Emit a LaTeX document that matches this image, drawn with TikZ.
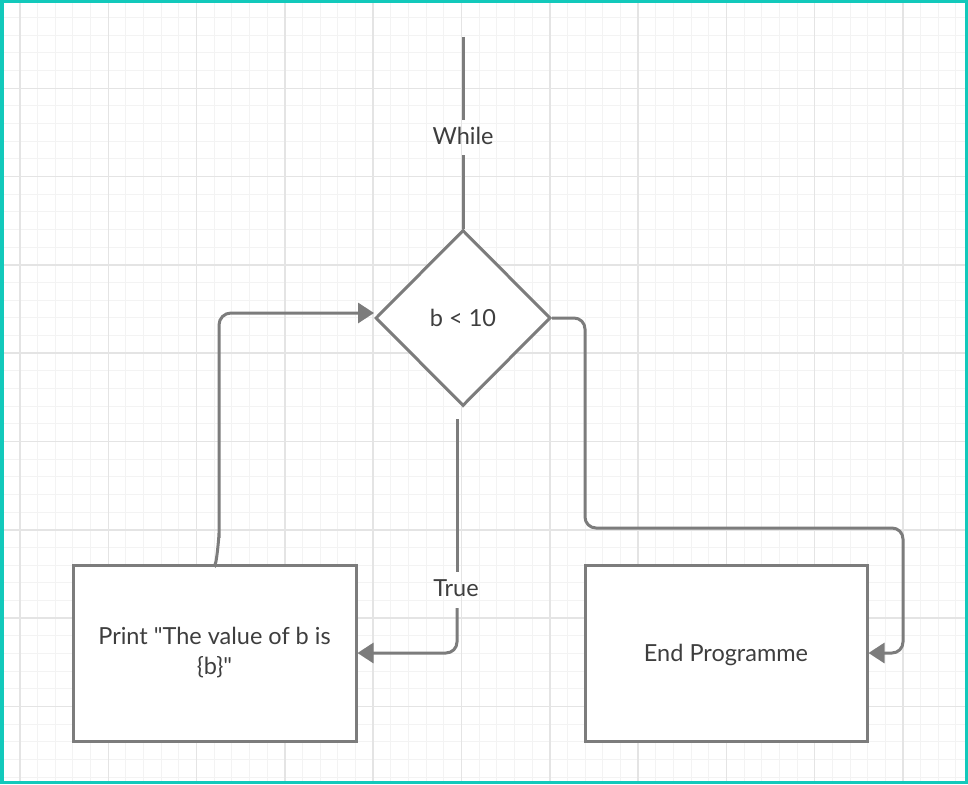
\documentclass[tikz,border=0pt]{standalone}
\usepackage{fontspec}
\setmainfont{Lato}[Ligatures=TeXOff]
\usetikzlibrary{shapes.geometric,arrows.meta,calc}
\definecolor{gridmin}{HTML}{F3F3F3}
\definecolor{gridmaj}{HTML}{E4E4E4}
\definecolor{frame}{HTML}{12C9BB}
\definecolor{linec}{HTML}{7C7C7C}
\definecolor{textc}{HTML}{3E3E3E}
\tikzset{
  minorline/.style={gridmin, line width=1pt},
  majorline/.style={gridmaj, line width=1.5pt},
  shapebox/.style={draw=linec, line width=3pt, fill=white, text=textc, font=\fontsize{23.5}{30}\selectfont, align=center, inner sep=0pt},
  conn/.style={draw=linec, line width=3pt},
  arrowconn/.style={conn, -{Triangle[length=16pt,width=20pt]}},
  lbl/.style={text=textc, font=\fontsize{23.5}{30}\selectfont, inner sep=0pt}
}
\begin{document}
\begin{tikzpicture}[x=1pt,y=-1pt]
\useasboundingbox (0,0) rectangle (968,784);
\fill[white] (0,0) rectangle (968,784);
% grid
\foreach \i in {-1,...,54} {
  \pgfmathsetmacro\xx{20+\i*17.66}
  \draw[minorline] (\xx,0) -- (\xx,784);
}
\foreach \i in {0,...,45} {
  \pgfmathsetmacro\yy{\i*17.66}
  \draw[minorline] (0,\yy) -- (968,\yy);
}
\foreach \i in {0,...,10} {
  \pgfmathsetmacro\xx{20+\i*88.3}
  \draw[majorline] (\xx,0) -- (\xx,784);
}
\foreach \i in {1,...,8} {
  \pgfmathsetmacro\yy{\i*88.3}
  \draw[majorline] (0,\yy) -- (968,\yy);
}
% frame
\draw[frame, line width=3.5pt] (1.75,1.75) rectangle (966.25,782.25);

% nodes
\node[shapebox, shape=diamond, minimum width=175pt, minimum height=176pt] (d) at (463,318) {b < 10};
\node[shapebox, shape=rectangle, minimum width=283pt, minimum height=176pt] (p) at (214.5,653) {Print "The value of b is\\\{b\}"};
\node[shapebox, shape=rectangle, minimum width=282pt, minimum height=176pt, text depth=0pt] (e) at (726,653) {End Programme};

% top connector with label
\coordinate (t0) at (463,37);
\coordinate (t1) at (463,120);
\coordinate (t2) at (463,155);
\node[lbl] (wl) at (463,136) {While};
\draw[conn] (t0) -- (t1);
\draw[conn] (t2) -- (d.north);

% true connector
\coordinate (f0) at (457,419);
\coordinate (f1) at (457,572);
\coordinate (f2) at (457,608);
\node[lbl] (tl) at (456,588) {True};
\draw[conn] (f0) -- (f1);
\draw[arrowconn, rounded corners=11pt] (f2) -- (457,653) -- (p.east);

% loop connector
\draw[arrowconn, rounded corners=12pt] (p.north) to[out=-80,in=90] (219,545) -- (219,313) -- ([yshift=5pt]d.west);

% false connector
\draw[arrowconn, rounded corners=11pt] (d.east) -- (585,318) -- (585,528) -- (903,528) -- (903,653) -- (e.east);
\end{tikzpicture}
\end{document}
